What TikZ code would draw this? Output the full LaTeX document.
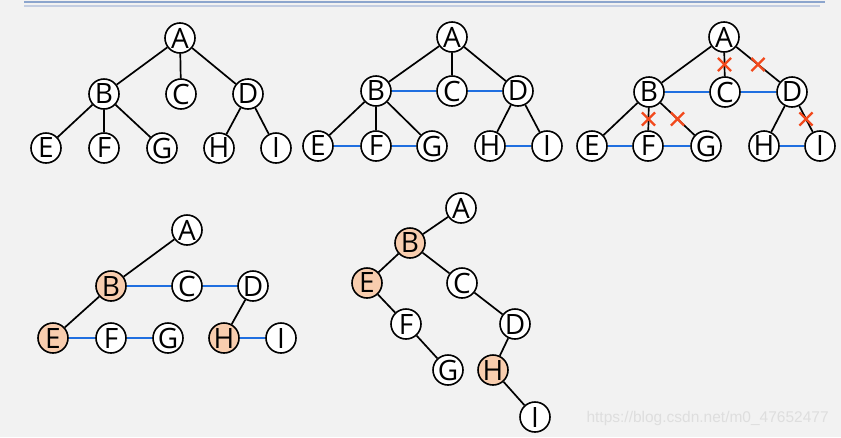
\documentclass[tikz,border=0pt]{standalone}
\usepackage{fontspec}
\setmainfont{Open Sans}
\usetikzlibrary{shapes.misc}
\definecolor{bgcol}{HTML}{F2F2F2}
\definecolor{linkblue}{HTML}{1F6FE0}
\definecolor{peach}{HTML}{F8CDAE}
\definecolor{crossred}{HTML}{F2491C}
\newcommand{\vfont}{\fontsize{28pt}{30pt}\selectfont}

\begin{document}
\begin{tikzpicture}[
  x=1pt, y=-1pt,
  vertex/.style={circle, draw, fill=white, line width=1.6pt, minimum size=30pt, inner sep=0pt, font=\vfont},
  marked/.style={vertex, fill=peach},
  edge/.style={line width=1.7pt},
  link/.style={line width=1.8pt, linkblue},
  xmark/.style={cross out, draw=crossred, line width=2.2pt, minimum size=11pt, inner sep=0pt}
]

% BACKGROUND
\fill[bgcol] (0,0) rectangle (841,437);
\useasboundingbox (0,0) rectangle (841,437);
\draw[line width=2pt, color={rgb,255:red,140;green,165;blue,205}] (24,1.5) -- (825,1.5);
\draw[line width=1.2pt, color={rgb,255:red,195;green,205;blue,225}] (24,6) -- (820,6);

% TREE 1
\node[vertex] (a1) at (180,38) {A};
\node[vertex] (b1) at (104,94) {B};
\node[vertex] (c1) at (181,94) {C};
\node[vertex] (d1) at (248,94) {D};
\node[vertex] (e1) at (46,148) {E};
\node[vertex] (f1) at (104,148) {F};
\node[vertex] (g1) at (162,148) {G};
\node[vertex] (h1) at (219,148) {H};
\node[vertex] (i1) at (276,148) {I};
\draw[edge] (a1) -- (b1);
\draw[edge] (a1) -- (c1);
\draw[edge] (a1) -- (d1);
\draw[edge] (b1) -- (e1);
\draw[edge] (b1) -- (f1);
\draw[edge] (b1) -- (g1);
\draw[edge] (d1) -- (h1);
\draw[edge] (d1) -- (i1);

% TREE 2
\node[vertex] (a2) at (452,37) {A};
\node[vertex] (b2) at (376,91) {B};
\node[vertex] (c2) at (452,91) {C};
\node[vertex] (d2) at (518,91) {D};
\node[vertex] (e2) at (318,146) {E};
\node[vertex] (f2) at (376,146) {F};
\node[vertex] (g2) at (432,146) {G};
\node[vertex] (h2) at (490,146) {H};
\node[vertex] (i2) at (547,146) {I};
\draw[edge] (a2) -- (b2);
\draw[edge] (a2) -- (c2);
\draw[edge] (a2) -- (d2);
\draw[edge] (b2) -- (e2);
\draw[edge] (b2) -- (f2);
\draw[edge] (b2) -- (g2);
\draw[edge] (d2) -- (h2);
\draw[edge] (d2) -- (i2);
\draw[link] (b2) -- (c2);
\draw[link] (c2) -- (d2);
\draw[link] (e2) -- (f2);
\draw[link] (f2) -- (g2);
\draw[link] (h2) -- (i2);

% TREE 3
\node[vertex] (a3) at (724,37) {A};
\node[vertex] (b3) at (649,92) {B};
\node[vertex] (c3) at (725,92) {C};
\node[vertex] (d3) at (792,92) {D};
\node[vertex] (e3) at (592,146) {E};
\node[vertex] (f3) at (648,146) {F};
\node[vertex] (g3) at (706,146) {G};
\node[vertex] (h3) at (764,146) {H};
\node[vertex] (i3) at (820,146) {I};
\draw[edge] (a3) -- (b3);
\draw[edge] (a3) -- node[xmark]{} (c3);
\draw[edge] (a3) -- node[xmark]{} (d3);
\draw[edge] (b3) -- (e3);
\draw[edge] (b3) -- node[xmark]{} (f3);
\draw[edge] (b3) -- node[xmark]{} (g3);
\draw[edge] (d3) -- (h3);
\draw[edge] (d3) -- node[xmark]{} (i3);
\draw[link] (b3) -- (c3);
\draw[link] (c3) -- (d3);
\draw[link] (e3) -- (f3);
\draw[link] (f3) -- (g3);
\draw[link] (h3) -- (i3);

% TREE 4
\node[vertex] (a4) at (187,230) {A};
\node[marked] (b4) at (111,286) {B};
\node[vertex] (c4) at (187,286) {C};
\node[vertex] (d4) at (253,286) {D};
\node[marked] (e4) at (53,338) {E};
\node[vertex] (f4) at (111,338) {F};
\node[vertex] (g4) at (168,338) {G};
\node[marked] (h4) at (224,338) {H};
\node[vertex] (i4) at (281,338) {I};
\draw[edge] (a4) -- (b4);
\draw[edge] (b4) -- (e4);
\draw[edge] (d4) -- (h4);
\draw[link] (b4) -- (c4);
\draw[link] (c4) -- (d4);
\draw[link] (e4) -- (f4);
\draw[link] (f4) -- (g4);
\draw[link] (h4) -- (i4);

% TREE 5 (binary)
\node[vertex] (a5) at (461,208) {A};
\node[marked] (b5) at (410,243) {B};
\node[marked] (e5) at (367,283) {E};
\node[vertex] (c5) at (462,283) {C};
\node[vertex] (f5) at (406,324) {F};
\node[vertex] (d5) at (515,324) {D};
\node[vertex] (g5) at (448,370) {G};
\node[marked] (h5) at (493,370) {H};
\node[vertex] (i5) at (535,417) {I};
\draw[edge] (a5) -- (b5);
\draw[edge] (b5) -- (e5);
\draw[edge] (b5) -- (c5);
\draw[edge] (e5) -- (f5);
\draw[edge] (f5) -- (g5);
\draw[edge] (c5) -- (d5);
\draw[edge] (d5) -- (h5);
\draw[edge] (h5) -- (i5);

% WATERMARK
\node[font=\fontspec{Liberation Sans}\fontsize{15.5}{18}\selectfont, text=black!13, anchor=west] (mark) at (583,418) {https://blog.csdn.net/m0\_47652477};

\end{tikzpicture}
\end{document}
